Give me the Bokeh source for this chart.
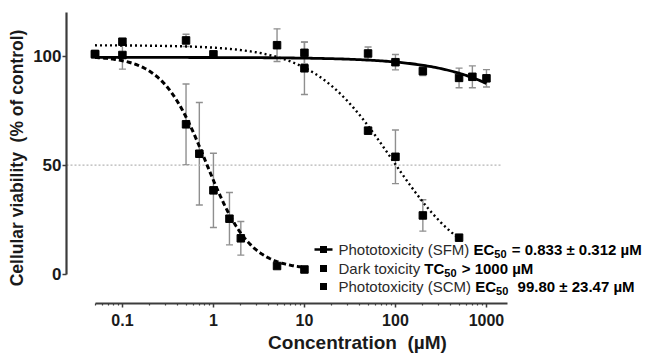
import numpy as np
from bokeh.plotting import figure
from bokeh.models import (FixedTicker, Range1d, Whisker, TeeHead, ColumnDataSource,
                          Label, BoxAnnotation)
from bokeh.embed import file_html
from bokeh.resources import INLINE

# ---------------- data ----------------
sfm_conc = [0.05, 0.1, 0.5, 0.7, 1, 1.5, 2, 5, 10]
sfm_viab = [101.0, 100.5, 68.7, 55.2, 38.4, 25.4, 16.4, 3.7, 2.1]
sfm_err = [0, 6.5, 18.5, 23.5, 17.0, 12.0, 7.7, 1.0, 0.6]

dark_conc = [0.05, 1, 10, 50, 100, 200, 500, 700, 1000]
dark_viab = [100.8, 100.8, 101.5, 101.2, 97.2, 93.1, 90.0, 90.5, 89.8]
dark_err = [0, 0, 5.0, 3.0, 3.5, 2.0, 4.5, 5.0, 4.0]

scm_conc = [0.1, 0.5, 5, 10, 50, 100, 200, 500]
scm_viab = [106.6, 107.2, 105.0, 94.4, 65.8, 53.8, 26.9, 16.7]
scm_err = [0, 2.8, 7.5, 12.0, 1.5, 12.3, 7.2, 0]

# fitted curve parameters (top, bottom, EC50, Hill slope)
sfm_fit = (100.0, 2.0, 0.833, 1.8)
dark_fit = (99.4, 0.0, 12000.0, 0.8)
scm_fit = (105.0, 0.0, 92.0, 1.0)

x_ticks = [0.1, 1, 10, 100, 1000]
x_tick_labels = ["0.1", "1", "10", "100", "1000"]
y_ticks = [0, 50, 100]
ref_y = 50

# legend: (plain text, bold symbol, subscript, gap in spaces, bold remainder)
legend_rows = [
    ("Phototoxicity (SFM)", "EC", "50", 1, "= 0.833 \u00b1 0.312 \u00b5M"),
    ("Dark toxicity", "TC", "50", 1, "> 1000 \u00b5M"),
    ("Phototoxicity (SCM)", "EC", "50", 2, "99.80 \u00b1 23.47 \u00b5M"),
]

FONT = "Liberation Sans"


def hill(x, top, bottom, ec50, h):
    x = np.asarray(x, dtype=float)
    return bottom + (top - bottom) / (1.0 + (x / ec50) ** h)


# ---------------- figure ----------------
p = figure(width=648, height=355, output_backend="svg", toolbar_location=None,
           x_axis_type="log",
           x_range=Range1d(0.0243, 60300), y_range=Range1d(-13.5, 120),
           min_border_left=66, min_border_right=0, min_border_top=12,
           min_border_bottom=52)
p.outline_line_color = None
p.xgrid.visible = False
p.ygrid.visible = False
p.background_fill_color = "white"
p.border_fill_color = "white"

AX_COL = "#3c3c3c"
TXT = "#1a1a1a"

# y axis
yax = p.yaxis[0]
yax.ticker = FixedTicker(ticks=y_ticks)
yax.bounds = (0, 120)
yax.axis_line_width = 2.2
yax.axis_line_color = AX_COL
yax.major_tick_out = 4
yax.major_tick_in = 0
yax.major_tick_line_width = 1.5
yax.major_tick_line_color = AX_COL
yax.minor_tick_line_color = None
yax.major_label_text_font = FONT
yax.major_label_text_font_style = "bold"
yax.major_label_text_font_size = "17px"
yax.major_label_text_color = TXT
yax.major_label_standoff = 1
yax.axis_label = "Cellular viability\u00a0\u00a0(% of control)"
yax.axis_label_text_font = FONT
yax.axis_label_text_font_style = "bold"
yax.axis_label_text_font_size = "17.5px"
yax.axis_label_text_color = TXT
yax.axis_label_standoff = 3

# x axis
x_minor = [m * 10.0 ** d for d in range(-2, 4) for m in range(2, 10)
           if 0.05 <= m * 10.0 ** d <= 1700]
xax = p.xaxis[0]
xax.ticker = FixedTicker(ticks=x_ticks, minor_ticks=x_minor)
xax.major_label_overrides = {float(t): l for t, l in zip(x_ticks, x_tick_labels)}
xax.bounds = (0.05, 1700)
xax.axis_line_width = 2.2
xax.axis_line_color = AX_COL
xax.major_tick_out = 4
xax.major_tick_in = 0
xax.major_tick_line_width = 1.5
xax.major_tick_line_color = AX_COL
xax.minor_tick_out = 2
xax.minor_tick_in = 0
xax.minor_tick_line_width = 1.2
xax.minor_tick_line_color = AX_COL
xax.major_label_text_font = FONT
xax.major_label_text_font_style = "bold"
xax.major_label_text_font_size = "16px"
xax.major_label_text_color = TXT
xax.major_label_standoff = 6
xax.axis_label = "Concentration\u00a0\u00a0(\u00b5M)"
xax.axis_label_text_font = FONT
xax.axis_label_text_font_style = "bold"
xax.axis_label_text_font_size = "19px"
xax.axis_label_text_color = TXT
xax.axis_label_standoff = 3

# 50 % reference line
p.line([0.0243, 1500], [ref_y, ref_y], line_color="#b5b5b5", line_width=1.2,
       line_dash="2 2")

# error bars
ERR_COL = "#8f8f8f"


def add_err(conc, viab, err):
    xs = [c for c, e in zip(conc, err) if e > 0]
    lo = [v - e for v, e in zip(viab, err) if e > 0]
    hi = [v + e for v, e in zip(viab, err) if e > 0]
    src = ColumnDataSource(dict(x=xs, lower=lo, upper=hi))
    w = Whisker(source=src, base="x", lower="lower", upper="upper",
                dimension="height", line_color=ERR_COL, line_width=1.4,
                upper_head=TeeHead(size=7, line_color=ERR_COL, line_width=1.4),
                lower_head=TeeHead(size=7, line_color=ERR_COL, line_width=1.4))
    p.add_layout(w)


add_err(sfm_conc, sfm_viab, sfm_err)
add_err(dark_conc, dark_viab, dark_err)
add_err(scm_conc, scm_viab, scm_err)

# fitted curves
xs = np.logspace(np.log10(0.05), np.log10(max(sfm_conc)), 200)
p.line(xs, hill(xs, *sfm_fit), line_color="black", line_width=3, line_dash="5 3")
xs = np.logspace(np.log10(0.05), np.log10(max(dark_conc)), 200)
p.line(xs, hill(xs, *dark_fit), line_color="black", line_width=2.8)
xs = np.logspace(np.log10(0.05), np.log10(max(scm_conc)), 200)
p.line(xs, hill(xs, *scm_fit), line_color="black", line_width=2.4, line_dash="2 3")

# markers
for conc, viab in ((sfm_conc, sfm_viab), (dark_conc, dark_viab), (scm_conc, scm_viab)):
    p.scatter(conc, viab, marker="square", size=7.5, color="black")

# ---------------- custom legend (screen units relative to the frame) ----------------
REG = {" ": 278, "(": 333, ")": 333, "P": 667, "S": 667, "F": 611, "M": 833, "D": 722,
       "C": 722, "T": 611, "E": 667, "a": 556, "c": 500, "h": 556, "i": 222, "k": 500,
       "o": 556, "r": 333, "t": 278, "x": 500, "y": 500, "=": 584, ">": 584, ".": 278,
       "\u00b1": 549, "\u00b5": 576}
BOLD = {" ": 278, "E": 667, "C": 722, "T": 611, "M": 833, "=": 584, ">": 584, ".": 278,
        "\u00b1": 549, "\u00b5": 611}


def tw(s, size, bold=False):
    tab = BOLD if bold else REG
    return sum(tab.get(ch, 556) for ch in s) * size / 1000.0


frame_left, frame_bottom = 66, 303
row_y = [249, 268, 286]
text_x0 = 338
mk_x = 323
FS = 15
SUB = 11
for i, (plain, sym, sub, gap, rest) in enumerate(legend_rows):
    sy = frame_bottom - row_y[i]
    mx = mk_x - frame_left
    p.add_layout(BoxAnnotation(left=mx - 3.5, right=mx + 3.5,
                               bottom=sy - 3.5, top=sy + 3.5,
                               left_units="screen", right_units="screen",
                               bottom_units="screen", top_units="screen",
                               fill_color="black", fill_alpha=1, line_color=None))
    if i == 0:
        p.add_layout(BoxAnnotation(left=mx - 9, right=mx + 9,
                                   bottom=sy - 1.3, top=sy + 1.3,
                                   left_units="screen", right_units="screen",
                                   bottom_units="screen", top_units="screen",
                                   fill_color="black", fill_alpha=1, line_color=None))
    x = text_x0 - frame_left
    p.add_layout(Label(x=x, y=sy, x_units="screen", y_units="screen", text=plain,
                       text_font=FONT, text_font_size=f"{FS}px", text_color="#2a2a2a",
                       text_baseline="middle", text_align="left"))
    x += tw(plain + " ", FS)
    p.add_layout(Label(x=x, y=sy, x_units="screen", y_units="screen", text=sym,
                       text_font=FONT, text_font_size=f"{FS}px", text_font_style="bold",
                       text_color="black", text_baseline="middle", text_align="left"))
    x += tw(sym, FS, True)
    p.add_layout(Label(x=x, y=sy - 4, x_units="screen", y_units="screen", text=sub,
                       text_font=FONT, text_font_size=f"{SUB}px", text_font_style="bold",
                       text_color="black", text_baseline="middle", text_align="left"))
    x += tw(sub, SUB, True) + gap * tw(" ", FS, True) + 1
    p.add_layout(Label(x=x, y=sy, x_units="screen", y_units="screen", text=rest,
                       text_font=FONT, text_font_size=f"{FS}px", text_font_style="bold",
                       text_color="black", text_baseline="middle", text_align="left"))

open("out.html", "w").write(file_html(p, INLINE))
